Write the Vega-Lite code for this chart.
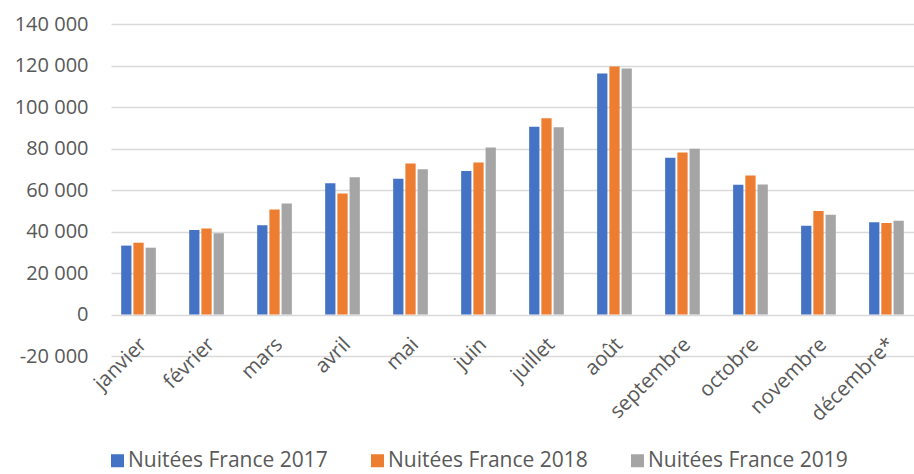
{
  "$schema": "https://vega.github.io/schema/vega-lite/v6.json",
  "width": 803,
  "height": 332,
  "autosize": {"type": "none"},
  "padding": {"left": 111, "top": 24, "right": 0, "bottom": 118},
  "background": "white",
  "config": {
    "locale": {"number": {"decimal": ",", "thousands": " ", "grouping": [3], "currency": ["", " €"], "minus": "-"}},
    "font": "Open Sans",
    "view": {"stroke": null}
  },
  "data": {
    "values": [
      {"mois": "janvier", "serie": "Nuitées France 2017", "v": 33200},
      {"mois": "janvier", "serie": "Nuitées France 2018", "v": 34600},
      {"mois": "janvier", "serie": "Nuitées France 2019", "v": 32200},
      {"mois": "février", "serie": "Nuitées France 2017", "v": 40700},
      {"mois": "février", "serie": "Nuitées France 2018", "v": 41400},
      {"mois": "février", "serie": "Nuitées France 2019", "v": 39100},
      {"mois": "mars", "serie": "Nuitées France 2017", "v": 43000},
      {"mois": "mars", "serie": "Nuitées France 2018", "v": 50600},
      {"mois": "mars", "serie": "Nuitées France 2019", "v": 53500},
      {"mois": "avril", "serie": "Nuitées France 2017", "v": 63300},
      {"mois": "avril", "serie": "Nuitées France 2018", "v": 58300},
      {"mois": "avril", "serie": "Nuitées France 2019", "v": 66200},
      {"mois": "mai", "serie": "Nuitées France 2017", "v": 65400},
      {"mois": "mai", "serie": "Nuitées France 2018", "v": 72800},
      {"mois": "mai", "serie": "Nuitées France 2019", "v": 70000},
      {"mois": "juin", "serie": "Nuitées France 2017", "v": 69200},
      {"mois": "juin", "serie": "Nuitées France 2018", "v": 73200},
      {"mois": "juin", "serie": "Nuitées France 2019", "v": 80500},
      {"mois": "juillet", "serie": "Nuitées France 2017", "v": 90500},
      {"mois": "juillet", "serie": "Nuitées France 2018", "v": 94600},
      {"mois": "juillet", "serie": "Nuitées France 2019", "v": 90200},
      {"mois": "août", "serie": "Nuitées France 2017", "v": 116200},
      {"mois": "août", "serie": "Nuitées France 2018", "v": 119500},
      {"mois": "août", "serie": "Nuitées France 2019", "v": 118500},
      {"mois": "septembre", "serie": "Nuitées France 2017", "v": 75500},
      {"mois": "septembre", "serie": "Nuitées France 2018", "v": 78100},
      {"mois": "septembre", "serie": "Nuitées France 2019", "v": 79900},
      {"mois": "octobre", "serie": "Nuitées France 2017", "v": 62500},
      {"mois": "octobre", "serie": "Nuitées France 2018", "v": 67000},
      {"mois": "octobre", "serie": "Nuitées France 2019", "v": 62600},
      {"mois": "novembre", "serie": "Nuitées France 2017", "v": 42800},
      {"mois": "novembre", "serie": "Nuitées France 2018", "v": 49900},
      {"mois": "novembre", "serie": "Nuitées France 2019", "v": 48100},
      {"mois": "décembre*", "serie": "Nuitées France 2017", "v": 44400},
      {"mois": "décembre*", "serie": "Nuitées France 2018", "v": 44100},
      {"mois": "décembre*", "serie": "Nuitées France 2019", "v": 45200}
    ]
  },
  "mark": {"type": "bar"},
  "encoding": {
    "x": {
      "field": "mois",
      "type": "nominal",
      "sort": null,
      "scale": {"paddingInner": 0.49, "paddingOuter": 0.15},
      "axis": {
        "title": null,
        "domain": false,
        "ticks": false,
        "labelAngle": -45,
        "labelAlign": "right",
        "labelBaseline": "middle",
        "labelFontSize": 20.5,
        "labelColor": "#595959",
        "labelPadding": 0,
        "labelOffset": 5,
        "offset": -15
      }
    },
    "xOffset": {
      "field": "serie",
      "type": "nominal",
      "scale": {"paddingInner": 0.16, "paddingOuter": 0}
    },
    "y": {
      "field": "v",
      "type": "quantitative",
      "scale": {"domain": [-20000, 140000], "nice": false, "zero": false},
      "axis": {
        "title": null,
        "domain": false,
        "ticks": false,
        "values": [-20000, 0, 20000, 40000, 60000, 80000, 100000, 120000, 140000],
        "format": ",d",
        "labelFontSize": 20,
        "labelColor": "#595959",
        "labelPadding": 23,
        "gridColor": "#d9d9d9",
        "gridWidth": 1.5
      }
    },
    "color": {
      "field": "serie",
      "type": "nominal",
      "scale": {"range": ["#4472C4", "#ED7D31", "#A5A5A5"]},
      "legend": {
        "title": null,
        "orient": "none",
        "direction": "horizontal",
        "legendX": -4,
        "legendY": 426,
        "symbolType": "square",
        "symbolSize": 169,
        "symbolStrokeWidth": 0,
        "labelFontSize": 21,
        "labelLimit": 0,
        "labelColor": "#595959",
        "labelOffset": 0,
        "columnPadding": 39
      }
    }
  }
}
